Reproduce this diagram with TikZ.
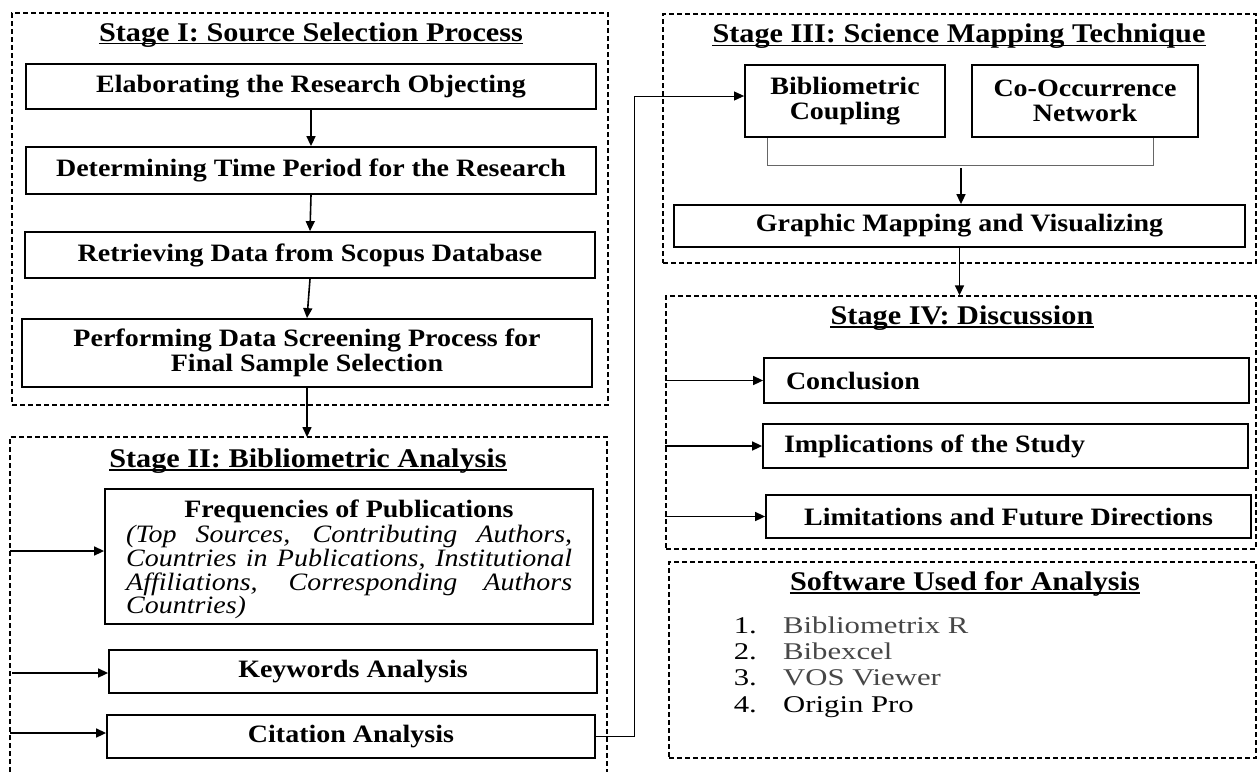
\documentclass[tikz,border=0pt]{standalone}
\usepackage{fontspec}
\setmainfont{Liberation Serif}[FakeStretch=1.12]
\newfontfamily\listff{Liberation Serif}[FakeStretch=1.28]
\usetikzlibrary{arrows.meta}
\newcommand\titlefont{\fontsize{27}{30}\selectfont\bfseries}
\newcommand\bodyfont{\fontsize{25}{25.5}\selectfont\bfseries}
\newcommand\itfont{\fontsize{25}{24}\selectfont\itshape}
\newcommand\listfont{\listff\fontsize{24}{27}\selectfont}
\tikzset{
  frame/.style={draw, line width=1.4pt, dash pattern=on 5pt off 3pt, inner sep=0pt},
  box/.style={draw, line width=1.8pt, inner sep=0pt, align=center, font=\bodyfont},
  arr/.style={line width=1.6pt, -{Triangle[length=10pt,width=9pt]}},
  thinarr/.style={line width=0.9pt, -{Triangle[length=10pt,width=9pt]}},
  brk/.style={line width=0.9pt, draw=black!60},
  ttl/.style={inner sep=0pt, font=\titlefont, anchor=base},
  uline/.style={line width=1.6pt},
  plain/.style={inner sep=0pt},
}
\begin{document}
\begin{tikzpicture}[x=1pt,y=-1pt]
\useasboundingbox (0,0) rectangle (1258,772);

% ---------- Stage I ----------
\node[frame, minimum width=596pt, minimum height=392pt] (f1) at (310,209) {};
\node[ttl] (t1) at (311,41) {Stage I: Source Selection Process};
\draw[uline] ([yshift=-2.5pt]t1.base west) -- ([yshift=-2.5pt]t1.base east);
\node[box, minimum width=570pt, minimum height=45pt] (e1) at (311,86.5) {Elaborating the Research Objecting};
\node[box, minimum width=570pt, minimum height=47pt] (e2) at (311,170.5) {Determining Time Period for the Research};
\node[box, minimum width=570pt, minimum height=46pt] (e3) at (310,255) {Retrieving Data from Scopus Database};
\node[box, minimum width=570pt, minimum height=68pt] (e4) at (307,353) {Performing Data Screening Process for\\Final Sample Selection};
\draw[arr] (e1.south) -- (e2.north);
\draw[arr] (e2.south) -- (e3.north);
\draw[arr] (e3.south) -- (e4.north);

% ---------- Stage II ----------
\coordinate (s2top) at (307,437);
\draw[frame] (10,772) -- (10,437) -- (607,437) -- (607,772);
\draw[arr] (e4.south) -- (s2top);
\node[ttl] (t2) at (308,467.5) {Stage II: Bibliometric Analysis};
\draw[uline] ([yshift=-2.5pt]t2.base west) -- ([yshift=-2.5pt]t2.base east);
\node[box, minimum width=488pt, minimum height=135pt] (fr) at (349,556.5) {};
\node[plain, anchor=base, font=\bodyfont] (frt) at (349,517) {Frequencies of Publications};
\node[plain, anchor=base west, font=\itfont] (fl1) at (126,542) {\makebox[446pt][s]{(Top Sources, Contributing Authors,}};
\node[plain, anchor=base west, font=\itfont] (fl2) at (126,566) {\makebox[446pt][s]{Countries in Publications, Institutional}};
\node[plain, anchor=base west, font=\itfont] (fl3) at (126,590) {\makebox[446pt][s]{Affiliations, Corresponding Authors}};
\node[plain, anchor=base west, font=\itfont] (fl4) at (126,613) {Countries)};
\node[box, minimum width=488pt, minimum height=43pt] (kw) at (353,671.5) {Keywords Analysis};
\node[box, minimum width=488pt, minimum height=43pt] (ci) at (351,736.5) {Citation Analysis};
\coordinate (a1) at (10,551);
\coordinate (a2) at (12,673);
\coordinate (a3) at (10,733);
\draw[arr] (a1) -- (a1 -| fr.west);
\draw[arr] (a2) -- (a2 -| kw.west);
\draw[arr] (a3) -- (a3 -| ci.west);

% ---------- Stage III ----------
\node[frame, minimum width=593pt, minimum height=249pt] (f3) at (959.5,138.5) {};
\node[ttl] (t3) at (959,42.3) {Stage III: Science Mapping Technique};
\draw[uline] ([yshift=-3pt]t3.base west) -- ([yshift=-3pt]t3.base east);
\node[box, minimum width=200pt, minimum height=72pt] (b) at (845,101) {Bibliometric\\Coupling};
\node[box, minimum width=226pt, minimum height=72pt] (co) at (1085,101) {Co-Occurrence\\Network};
\coordinate (bl) at (767,165);
\coordinate (brr) at (1153,165);
\draw[brk] (bl |- b.south) -- (bl) -- (brr) -- (brr |- co.south);
\node[box, minimum width=571pt, minimum height=42pt] (g) at (959.5,226) {Graphic Mapping and Visualizing};
\coordinate (bm) at (961,168);
\draw[arr] (bm) -- (bm |- g.north);
\coordinate (cup) at (634,96);
\draw[thinarr] (ci.east) -| (cup) -- (cup -| b.west);

% ---------- Stage IV ----------
\node[frame, minimum width=590pt, minimum height=253pt] (f4) at (961,422.5) {};
\draw[arr] (g.south) -- (g.south |- f4.north);
\node[ttl] (t4) at (962,324) {Stage IV: Discussion};
\draw[uline] ([yshift=-3pt]t4.base west) -- ([yshift=-3pt]t4.base east);
\node[box, minimum width=485pt, minimum height=45pt] (con) at (1006.5,380.5) {\makebox[441pt][l]{Conclusion}};
\node[box, minimum width=485pt, minimum height=44pt] (imp) at (1005.5,446) {\makebox[443pt][l]{Implications of the Study}};
\node[box, minimum width=485pt, minimum height=43pt] (lim) at (1008.5,516.5) {Limitations and Future Directions};
\draw[arr] (f4.west |- con.west) -- (con.west);
\draw[arr] (f4.west |- imp.west) -- (imp.west);
\draw[arr] (f4.west |- lim.west) -- (lim.west);

% ---------- Software ----------
\node[frame, minimum width=587pt, minimum height=196pt] (f5) at (962.5,660) {};
\node[ttl] (t5) at (965,590) {Software Used for Analysis};
\draw[uline] ([yshift=-3pt]t5.base west) -- ([yshift=-3pt]t5.base east);
\node[plain, anchor=base east, font=\listfont] (n1) at (757,633) {1.};
\node[plain, anchor=base east, font=\listfont] (n2) at (757,659) {2.};
\node[plain, anchor=base east, font=\listfont] (n3) at (757,685) {3.};
\node[plain, anchor=base east, font=\listfont] (n4) at (757,712) {4.};
\node[plain, anchor=base west, font=\listfont, text=black!72] (s1) at (783,633) {Bibliometrix R};
\node[plain, anchor=base west, font=\listfont, text=black!72] (s2) at (783,659) {Bibexcel};
\node[plain, anchor=base west, font=\listfont, text=black!72] (s3) at (783,685) {VOS Viewer};
\node[plain, anchor=base west, font=\listfont] (s4) at (783,712) {Origin Pro};
\end{tikzpicture}
\end{document}
